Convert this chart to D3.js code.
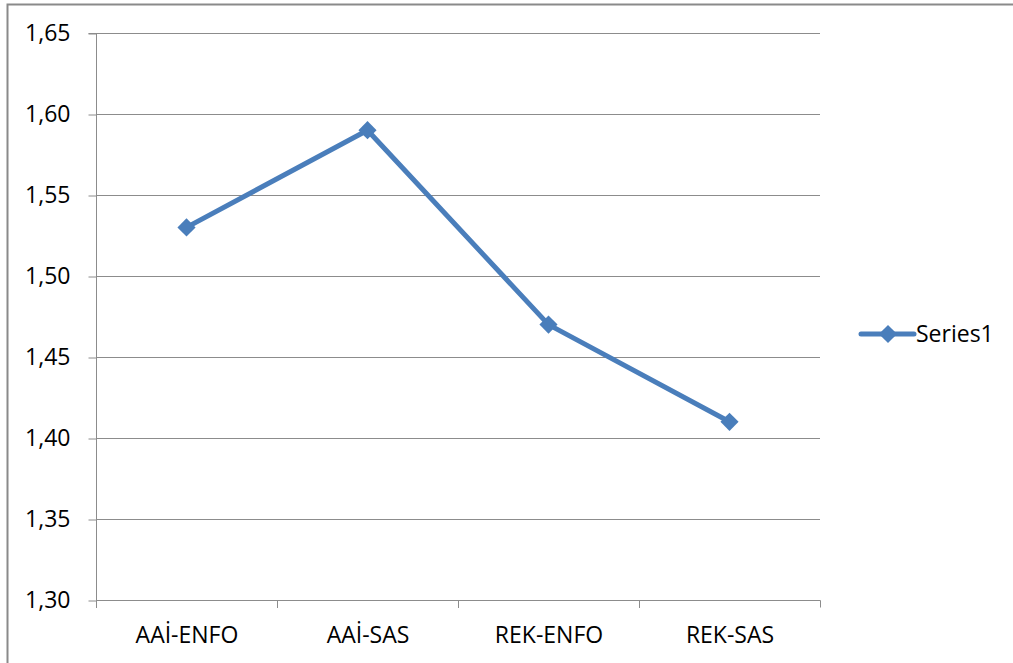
<!DOCTYPE html>
<html><head><meta charset="utf-8">
<script src="https://cdn.jsdelivr.net/npm/d3@7"></script>
<style>body{margin:0;background:#fff;} text{font-family:"Open Sans","Liberation Sans",sans-serif;}</style>
</head><body><svg id="c" width="1013" height="663"></svg>
<script>
const categories = ["AAİ-ENFO","AAİ-SAS","REK-ENFO","REK-SAS"];
const values = [1.53, 1.59, 1.47, 1.41];
const yTicks = [1.30,1.35,1.40,1.45,1.50,1.55,1.60,1.65];
const seriesName = "Series1";

const svg = d3.select("#c");
const color = "#4a7ebb", grid = "#8c8c8c";
const L = 96, R = 820, T = 33, B = 600;
const FS = 23;

svg.append("path").attr("d","M7.5,663 V4.5 H1013").attr("fill","none").attr("stroke","#8a8a8a").attr("stroke-width",2);

const x = d3.scaleBand().domain(categories).range([L,R]);
const y = d3.scaleLinear().domain([1.30,1.65]).range([B,T]);

svg.append("g").selectAll("line").data(yTicks.slice(1)).join("line")
  .attr("x1",L).attr("x2",R).attr("y1",d=>Math.round(y(d))+0.5).attr("y2",d=>Math.round(y(d))+0.5)
  .attr("stroke",grid).attr("stroke-width",1);

const fmt = d=>d.toFixed(2).replace(".",",");
const ya = svg.append("g").attr("transform",`translate(${L+0.5},0.5)`)
  .call(d3.axisLeft(y).tickValues(yTicks).tickFormat(fmt).tickSize(8).tickPadding(18));
ya.select(".domain").attr("stroke",grid).attr("d",`M-8,${T}H0V${B}`);
ya.selectAll(".tick line").attr("stroke",grid);
ya.selectAll(".tick text").attr("font-size",FS).attr("fill","#000");

const xa = svg.append("g").attr("transform",`translate(0.5,${B+0.5})`)
  .call(d3.axisBottom(x).tickSize(0).tickPadding(26));
xa.select(".domain").attr("stroke",grid).attr("d",`M${L},0H${R}V7`);
xa.selectAll(".tick text").attr("font-size",FS).attr("fill","#000");
svg.append("g").selectAll("line").data(categories.slice(1)).join("line")
  .attr("x1",d=>x(d)+0.5).attr("x2",d=>x(d)+0.5).attr("y1",B).attr("y2",B+8).attr("stroke",grid);
svg.append("line").attr("x1",L+0.5).attr("x2",L+0.5).attr("y1",B).attr("y2",B+8).attr("stroke",grid);

const cx = d=>x(d)+x.bandwidth()/2;
const line = d3.line().x((d,i)=>cx(categories[i])).y(d=>y(d));
svg.append("path").datum(values).attr("d",line).attr("fill","none").attr("stroke",color).attr("stroke-width",5).attr("stroke-linejoin","round");
const mk = d3.symbol().type(d3.symbolSquare).size(165);
svg.append("g").selectAll("path").data(values).join("path")
  .attr("transform",(d,i)=>`translate(${cx(categories[i])},${y(d)}) rotate(45)`)
  .attr("d",mk).attr("fill",color);

const ly = 334;
svg.append("line").attr("x1",861).attr("x2",914).attr("y1",ly).attr("y2",ly).attr("stroke",color).attr("stroke-width",5).attr("stroke-linecap","round");
svg.append("path").attr("transform",`translate(888,${ly}) rotate(45)`).attr("d",mk).attr("fill",color);
svg.append("text").attr("x",916).attr("y",ly).attr("dy","0.35em").attr("font-size",FS).text(seriesName);
</script></body></html>
